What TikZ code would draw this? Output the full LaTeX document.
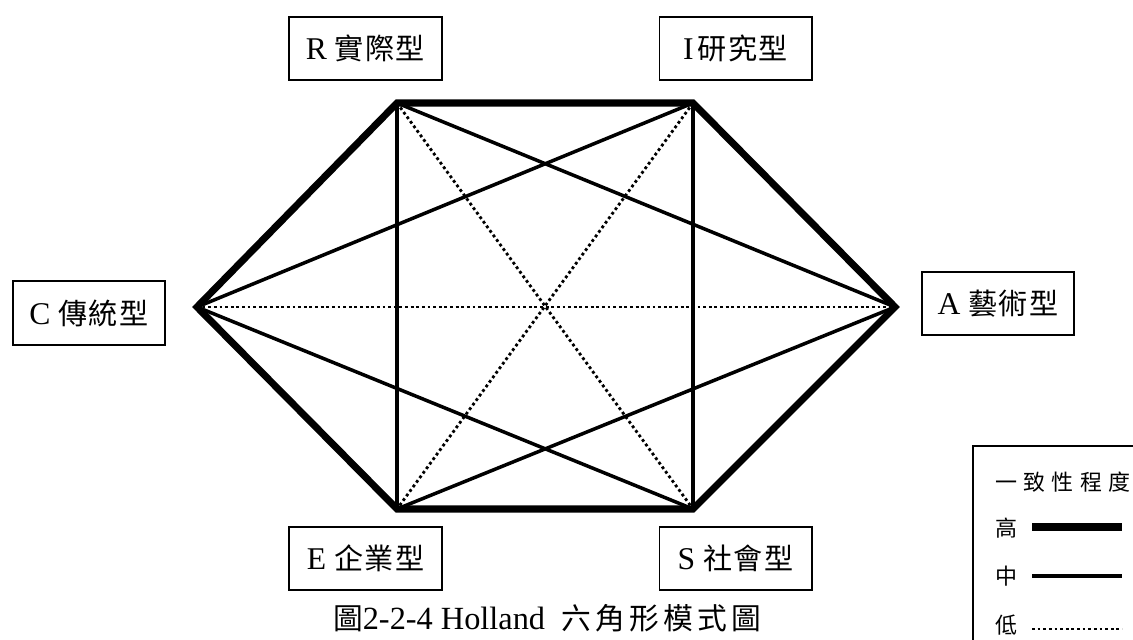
\documentclass[tikz,border=0pt]{standalone}
\usepackage{fontspec}
\setmainfont{Liberation Serif}
\newfontfamily\cjk[Scale=0.92]{Noto Sans CJK TC}
\begin{document}
\begin{tikzpicture}[x=0.025cm,y=-0.025cm,
    typebox/.style={draw,line width=1.4pt,minimum width=3.8cm,minimum height=1.58cm,inner sep=0pt,font=\fontsize{22.5}{26}\selectfont},
    strongline/.style={line width=5pt,line join=miter},
    midline/.style={line width=2.5pt},
    weakline/.style={line width=2pt,dash pattern=on 2pt off 2pt},
    legtext/.style={font=\fontsize{17}{20}\selectfont\cjk,inner sep=0pt}
]
\clip (0,0) rectangle (1133,639);

% corners of the hexagon
\coordinate (R) at (397,103);
\coordinate (I) at (693,103);
\coordinate (A) at (895,307);
\coordinate (S) at (693,509);
\coordinate (E) at (397,509);
\coordinate (C) at (197,307);

% type boxes
\node[typebox] (Rbox) at (365.5,48.5)  {R {\cjk 實\kern1pt 際\kern1pt 型}};
\node[typebox] (Ibox) at (735.5,48.5)  {I\kern3pt{\cjk 研\kern1pt 究\kern1pt 型}};
\node[typebox] (Abox) at (998,303.5)   {A {\cjk 藝\kern1pt 術\kern1pt 型}};
\node[typebox] (Cbox) at (89,313)      {C {\cjk 傳\kern1pt 統\kern1pt 型}};
\node[typebox] (Ebox) at (365.5,558.5) {E {\cjk 企\kern1pt 業\kern1pt 型}};
\node[typebox] (Sbox) at (735.5,558.5) {S {\cjk 社\kern1pt 會\kern1pt 型}};

% low
\draw[weakline] (R) -- (S);
\draw[weakline] (I) -- (E);
\draw[weakline] (C) -- (A);

% medium
\draw[midline] (R) -- (A);
\draw[midline] (R) -- (E);
\draw[midline] (I) -- (C);
\draw[midline] (I) -- (S);
\draw[midline] (A) -- (E);
\draw[midline] (S) -- (C);

% high
\draw[strongline] (R) -- (I) -- (A) -- (S) -- (E) -- (C) -- cycle;

\node[font=\fontsize{23}{26}\selectfont] (cap) at (547,618)
    {{\cjk 圖}2-2-4 Holland\ \ {\cjk 六\kern3pt 角\kern3pt 形\kern3pt 模\kern3pt 式\kern3pt 圖}};

% legend
\draw[line width=1.4pt] (973,446) rectangle (1150,660);
\node[legtext,anchor=west] (legtitle) at (995,482) {一\kern4.5pt 致\kern4.5pt 性\kern4.5pt 程\kern4.5pt 度};
\node[legtext,anchor=west] (hi)  at (995,528) {高};
\node[legtext,anchor=west] (mid) at (995,576) {中};
\node[legtext,anchor=west] (lo)  at (995,625) {低};
\coordinate (hiA)  at (1032,527);
\coordinate (hiB)  at (1122,527);
\coordinate (midA) at (1032,576);
\coordinate (midB) at (1122,576);
\coordinate (loA)  at (1032,629);
\coordinate (loB)  at (1122,629);
\draw[strongline] (hiA) -- (hiB);
\draw[midline] (midA) -- (midB);
\draw[weakline] (loA) -- (loB);
\end{tikzpicture}
\end{document}
